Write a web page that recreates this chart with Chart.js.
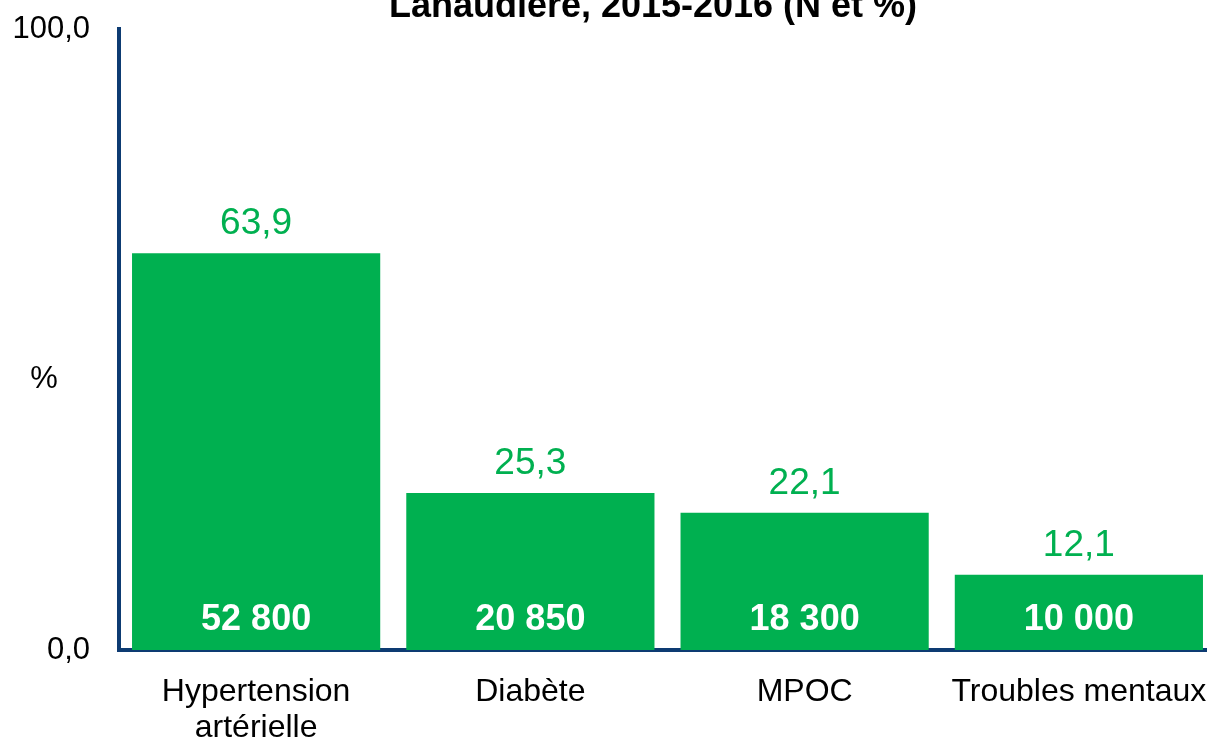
<!DOCTYPE html>
<html lang="fr">
<head>
<meta charset="utf-8">
<title>Lanaudière, 2015-2016 (N et %)</title>
<script src="https://cdn.jsdelivr.net/npm/chart.js@4.4.1/dist/chart.umd.min.js"></script>
<style>
  html, body { margin: 0; padding: 0; background: #fff; overflow: hidden; }
  canvas { display: block; }
</style>
</head>
<body>
<canvas id="graphique" width="1217" height="740"></canvas>
<script>
// données
const categories = [['Hypertension', 'artérielle'], 'Diabète', 'MPOC', 'Troubles mentaux'];
const pourcentages = [63.9, 25.3, 22.1, 12.1];
const effectifs = [52800, 20850, 18300, 10000];
const ticksY = [0, 100];
const titre = 'Lanaudière, 2015-2016 (N et %)';

const POLICE = 'Arial, "Liberation Sans", sans-serif';
const VERT = '#00B050';
const BLEU = '#0D3B72';

function formatPct(v) {
  return v.toFixed(1).replace('.', ',');
}

function formatN(v) {
  return String(v).replace(/\B(?=(\d{3})+(?!\d))/g, ' ');
}

// titre (coupé en haut) + libellé "%" de l'axe
const pluginTextes = {
  id: 'textes',
  afterDraw(chart) {
    const ctx = chart.ctx;
    const area = chart.chartArea;
    ctx.save();
    ctx.fillStyle = '#000';
    ctx.font = 'bold 36px ' + POLICE;
    ctx.textAlign = 'center';
    ctx.textBaseline = 'alphabetic';
    ctx.fillText(titre, 653, 17);
    ctx.font = '31px ' + POLICE;
    ctx.textBaseline = 'middle';
    ctx.fillText('%', 44, area.top + (area.bottom - area.top) * 0.565);
    ctx.restore();
  }
};

// valeurs au-dessus des barres et effectifs dans les barres
const pluginEtiquettes = {
  id: 'etiquettes',
  afterDatasetsDraw(chart) {
    const ctx = chart.ctx;
    const meta = chart.getDatasetMeta(0);
    ctx.save();
    ctx.textAlign = 'center';
    ctx.textBaseline = 'alphabetic';
    meta.data.forEach((bar, i) => {
      ctx.fillStyle = VERT;
      ctx.font = '37px ' + POLICE;
      ctx.fillText(formatPct(pourcentages[i]), bar.x, bar.y - 19);
      ctx.fillStyle = '#fff';
      ctx.font = 'bold 36px ' + POLICE;
      ctx.fillText(formatN(effectifs[i]), bar.x, bar.base - 20);
    });
    ctx.restore();
  }
};

const ctx = document.getElementById('graphique').getContext('2d');
const chart = new Chart(ctx, {
  type: 'bar',
  data: {
    labels: categories,
    datasets: [{
      label: '%',
      data: pourcentages,
      backgroundColor: VERT,
      borderWidth: 0,
      barPercentage: 0.905,
      categoryPercentage: 1
    }]
  },
  options: {
    responsive: false,
    animation: false,
    layout: { padding: { top: 29, left: 0, right: 1, bottom: 0 } },
    plugins: {
      legend: { display: false },
      title: { display: false },
      tooltip: { enabled: false }
    },
    scales: {
      x: {
        z: 1,
        offset: true,
        grid: { display: false, drawTicks: false },
        border: { display: true, color: BLEU, width: 4 },
        ticks: {
          color: '#000',
          font: { family: POLICE, size: 32, lineHeight: 1.1 },
          padding: 25,
          maxRotation: 0,
          autoSkip: false
        },
        afterFit(scale) {
          scale.height = 90;
          scale.paddingLeft = 0;
          scale.paddingRight = 0;
        }
      },
      y: {
        min: 0,
        max: 100,
        grid: { display: false, drawTicks: false },
        border: { display: true, color: BLEU, width: 4 },
        afterBuildTicks(scale) {
          scale.ticks = ticksY.map(v => ({ value: v }));
        },
        ticks: {
          color: '#000',
          font: { family: POLICE, size: 31 },
          padding: 29,
          callback: v => formatPct(v)
        },
        afterFit(scale) {
          scale.width = 119;
          scale.paddingTop = 0;
          scale.paddingBottom = 0;
        }
      }
    }
  },
  plugins: [pluginTextes, pluginEtiquettes]
});
</script>
</body>
</html>
